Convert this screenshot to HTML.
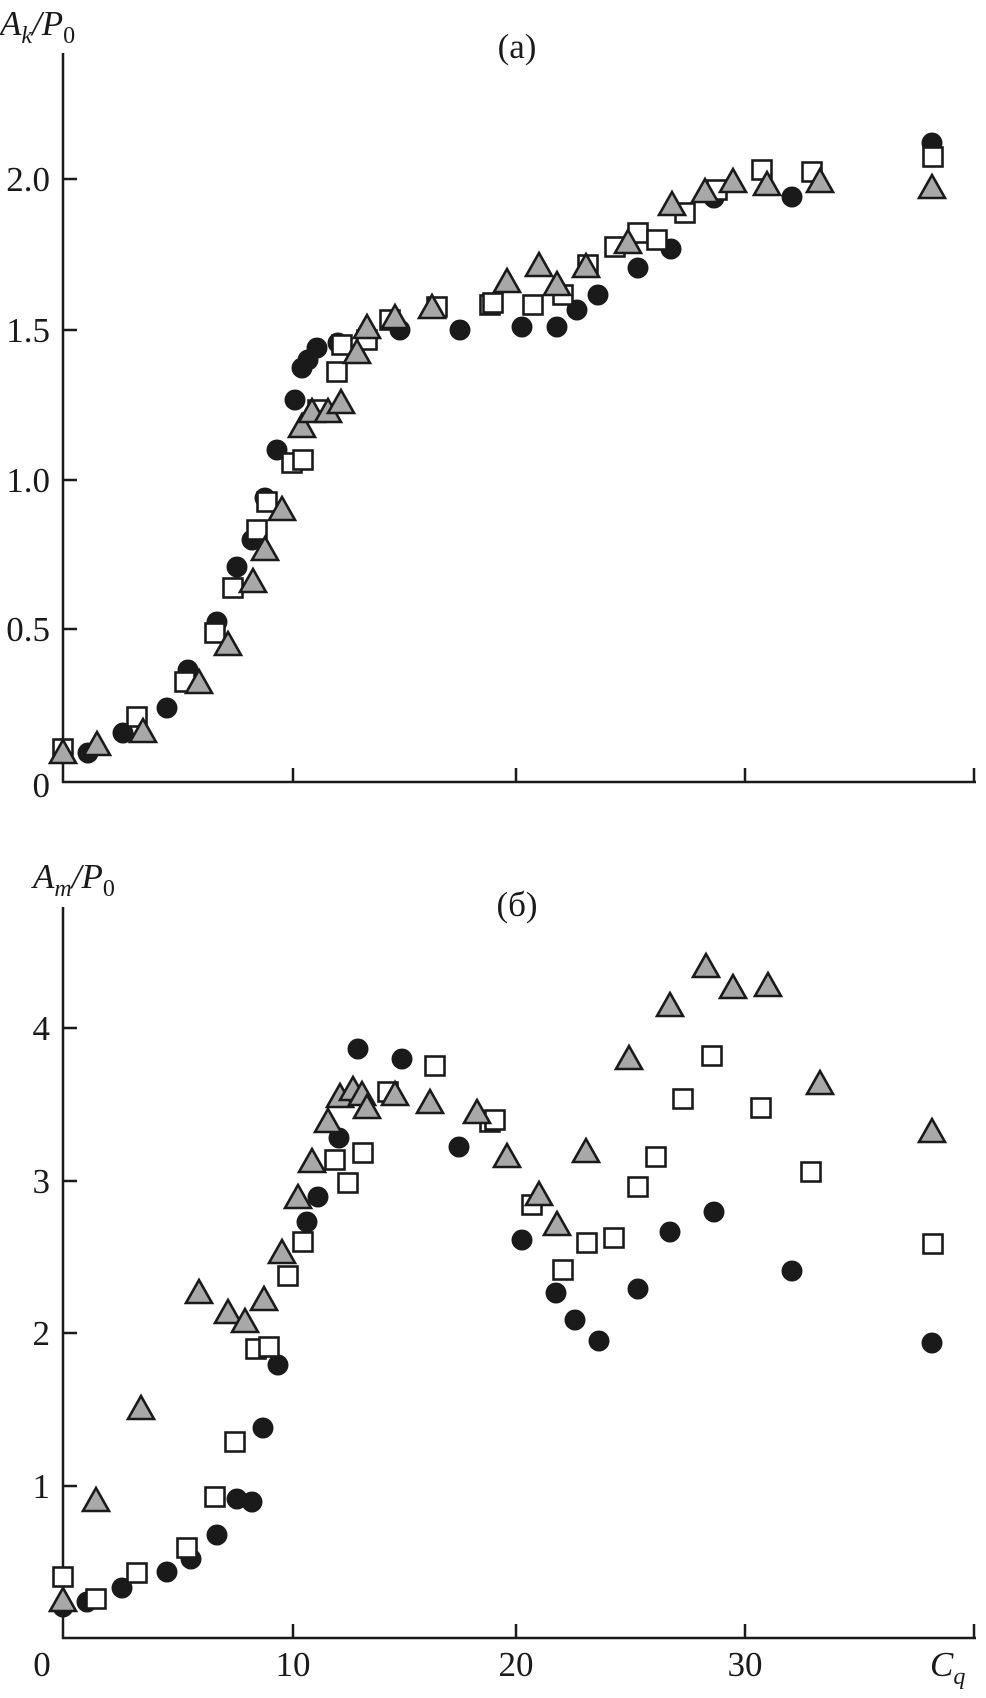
<!DOCTYPE html>
<html><head><meta charset="utf-8"><style>
html,body{margin:0;padding:0;background:#fff;}
svg{display:block;}
text{font-family:"Liberation Serif",serif;fill:#1a1a1a;}
</style></head><body>
<svg width="986" height="1698" viewBox="0 0 986 1698" xmlns="http://www.w3.org/2000/svg">
<defs>
<circle id="c" r="10.5" fill="#1a1a1a"/>
<rect id="s" x="-9.5" y="-9.5" width="19" height="19" fill="#fff" stroke="#1a1a1a" stroke-width="2.6"/>
<polygon id="t" points="0,-13 -13,10 13,10" fill="#a8a8a8" stroke="#1a1a1a" stroke-width="2.6" stroke-linejoin="miter"/>
</defs>
<g stroke="#1a1a1a" stroke-width="2.5" fill="none">
<!-- panel a axes -->
<line x1="63" y1="53" x2="63" y2="783"/>
<line x1="62" y1="782" x2="976" y2="782"/>
<line x1="63" y1="179" x2="77" y2="179"/>
<line x1="63" y1="330" x2="77" y2="330"/>
<line x1="63" y1="480" x2="77" y2="480"/>
<line x1="63" y1="629" x2="77" y2="629"/>
<line x1="293" y1="782" x2="293" y2="768"/>
<line x1="516" y1="782" x2="516" y2="768"/>
<line x1="745" y1="782" x2="745" y2="768"/>
<line x1="974" y1="782" x2="974" y2="768"/>
<!-- panel b axes -->
<line x1="63" y1="907" x2="63" y2="1639"/>
<line x1="62" y1="1638" x2="976" y2="1638"/>
<line x1="63" y1="1028" x2="77" y2="1028"/>
<line x1="63" y1="1181" x2="77" y2="1181"/>
<line x1="63" y1="1333" x2="77" y2="1333"/>
<line x1="63" y1="1486" x2="77" y2="1486"/>
<line x1="293" y1="1638" x2="293" y2="1624"/>
<line x1="516" y1="1638" x2="516" y2="1624"/>
<line x1="745" y1="1638" x2="745" y2="1624"/>
<line x1="974" y1="1638" x2="974" y2="1624"/>
</g>
<!-- labels -->
<g font-size="35">
<text x="50" y="191" text-anchor="end">2.0</text>
<text x="50" y="342" text-anchor="end">1.5</text>
<text x="50" y="492" text-anchor="end">1.0</text>
<text x="50" y="641" text-anchor="end">0.5</text>
<text x="50" y="797" text-anchor="end">0</text>
<text x="50" y="1040" text-anchor="end">4</text>
<text x="50" y="1193" text-anchor="end">3</text>
<text x="50" y="1345" text-anchor="end">2</text>
<text x="50" y="1498" text-anchor="end">1</text>
<text x="42" y="1676" text-anchor="middle">0</text>
<text x="293" y="1676" text-anchor="middle">10</text>
<text x="516" y="1676" text-anchor="middle">20</text>
<text x="745" y="1676" text-anchor="middle">30</text>
<text x="517" y="58" text-anchor="middle">(a)</text>
<text x="517" y="916" text-anchor="middle">(б)</text>
<text x="0" y="35" font-style="italic">A<tspan font-size="24" dy="8">k</tspan><tspan dy="-8">/P</tspan><tspan font-size="24" dy="8" font-style="normal">0</tspan></text>
<text x="33" y="888" font-style="italic">A<tspan font-size="24" dy="8">m</tspan><tspan dy="-8">/P</tspan><tspan font-size="24" dy="8" font-style="normal">0</tspan></text>
<text x="930" y="1676" font-style="italic">C<tspan font-size="24" dy="8">q</tspan></text>
</g>
<!-- panel a circles -->
<g>
<use href="#c" x="88" y="753"/><use href="#c" x="123" y="733"/><use href="#c" x="167" y="708"/><use href="#c" x="188" y="670"/><use href="#c" x="217" y="622"/><use href="#c" x="237" y="567"/><use href="#c" x="252" y="540"/><use href="#c" x="265" y="498"/><use href="#c" x="277" y="450"/><use href="#c" x="295" y="400"/><use href="#c" x="302" y="368"/><use href="#c" x="308" y="360"/><use href="#c" x="317" y="348"/><use href="#c" x="338" y="343"/><use href="#c" x="400" y="330"/><use href="#c" x="460" y="330"/>
<use href="#c" x="522" y="327"/><use href="#c" x="557" y="327"/><use href="#c" x="577" y="310"/><use href="#c" x="598" y="295"/><use href="#c" x="638" y="268"/><use href="#c" x="671" y="249"/><use href="#c" x="714" y="198"/><use href="#c" x="792" y="197"/><use href="#c" x="932" y="143"/>
</g>
<g>
<use href="#s" x="63" y="749"/><use href="#s" x="137" y="717"/><use href="#s" x="185" y="682"/><use href="#s" x="215" y="633"/><use href="#s" x="233" y="588"/><use href="#s" x="257" y="530"/><use href="#s" x="267" y="502"/><use href="#s" x="292" y="463"/><use href="#s" x="303" y="460"/><use href="#s" x="318" y="410"/><use href="#s" x="337" y="372"/><use href="#s" x="342" y="345"/><use href="#s" x="367" y="340"/><use href="#s" x="390" y="320"/><use href="#s" x="437" y="307"/><use href="#s" x="490" y="305"/>
<use href="#s" x="493" y="303"/><use href="#s" x="533" y="305"/><use href="#s" x="563" y="295"/><use href="#s" x="588" y="265"/><use href="#s" x="615" y="247"/><use href="#s" x="638" y="233"/><use href="#s" x="657" y="240"/><use href="#s" x="685" y="213"/><use href="#s" x="717" y="190"/><use href="#s" x="762" y="170"/><use href="#s" x="812" y="172"/><use href="#s" x="933" y="157"/>
</g>
<g>
<use href="#t" x="63" y="753"/><use href="#t" x="97" y="745"/><use href="#t" x="143" y="732"/><use href="#t" x="199" y="683"/><use href="#t" x="228" y="645"/><use href="#t" x="253" y="582"/><use href="#t" x="265" y="550"/><use href="#t" x="282" y="510"/><use href="#t" x="302" y="427"/><use href="#t" x="312" y="412"/><use href="#t" x="328" y="412"/><use href="#t" x="341" y="403"/><use href="#t" x="357" y="353"/><use href="#t" x="367" y="328"/><use href="#t" x="395" y="318"/><use href="#t" x="432" y="308"/>
<use href="#t" x="507" y="282"/><use href="#t" x="539" y="266"/><use href="#t" x="557" y="285"/><use href="#t" x="586" y="267"/><use href="#t" x="628" y="243"/><use href="#t" x="672" y="205"/><use href="#t" x="705" y="192"/><use href="#t" x="733" y="182"/><use href="#t" x="767" y="185"/><use href="#t" x="820" y="182"/><use href="#t" x="932" y="188"/>
</g>
<!-- panel b -->
<g>
<use href="#c" x="63" y="1607"/><use href="#c" x="87" y="1602"/><use href="#c" x="122" y="1588"/><use href="#c" x="167" y="1572"/><use href="#c" x="191" y="1559"/><use href="#c" x="217" y="1535"/><use href="#c" x="237" y="1499"/><use href="#c" x="252" y="1502"/><use href="#c" x="263" y="1428"/><use href="#c" x="278" y="1365"/><use href="#c" x="307" y="1222"/><use href="#c" x="318" y="1197"/><use href="#c" x="339" y="1138"/><use href="#c" x="358" y="1049"/><use href="#c" x="402" y="1059"/><use href="#c" x="459" y="1147"/>
<use href="#c" x="522" y="1240"/><use href="#c" x="556" y="1293"/><use href="#c" x="575" y="1320"/><use href="#c" x="599" y="1341"/><use href="#c" x="638" y="1289"/><use href="#c" x="670" y="1232"/><use href="#c" x="714" y="1212"/><use href="#c" x="792" y="1271"/><use href="#c" x="932" y="1343"/>
</g>
<g>
<use href="#s" x="63" y="1577"/><use href="#s" x="96" y="1599"/><use href="#s" x="137" y="1573"/><use href="#s" x="187" y="1548"/><use href="#s" x="215" y="1497"/><use href="#s" x="235" y="1442"/><use href="#s" x="256" y="1349"/><use href="#s" x="269" y="1347"/><use href="#s" x="288" y="1276"/><use href="#s" x="303" y="1242"/><use href="#s" x="335" y="1160"/><use href="#s" x="348" y="1183"/><use href="#s" x="363" y="1153"/><use href="#s" x="388" y="1092"/><use href="#s" x="435" y="1066"/><use href="#s" x="490" y="1122"/>
<use href="#s" x="495" y="1120"/><use href="#s" x="532" y="1205"/><use href="#s" x="563" y="1270"/><use href="#s" x="587" y="1243"/><use href="#s" x="614" y="1238"/><use href="#s" x="638" y="1187"/><use href="#s" x="656" y="1157"/><use href="#s" x="683" y="1099"/><use href="#s" x="712" y="1056"/><use href="#s" x="761" y="1108"/><use href="#s" x="811" y="1172"/><use href="#s" x="933" y="1244"/>
</g>
<g>
<use href="#t" x="63" y="1601"/><use href="#t" x="96" y="1501"/><use href="#t" x="141" y="1409"/><use href="#t" x="199" y="1293"/><use href="#t" x="228" y="1313"/><use href="#t" x="245" y="1322"/><use href="#t" x="264" y="1300"/><use href="#t" x="282" y="1253"/><use href="#t" x="298" y="1198"/><use href="#t" x="312" y="1162"/><use href="#t" x="328" y="1122"/><use href="#t" x="340" y="1097"/><use href="#t" x="353" y="1090"/><use href="#t" x="362" y="1095"/><use href="#t" x="367" y="1108"/><use href="#t" x="395" y="1095"/><use href="#t" x="430" y="1103"/><use href="#t" x="477" y="1113"/>
<use href="#t" x="507" y="1157"/><use href="#t" x="539" y="1195"/><use href="#t" x="557" y="1225"/><use href="#t" x="586" y="1152"/><use href="#t" x="629" y="1059"/><use href="#t" x="670" y="1006"/><use href="#t" x="706" y="967"/><use href="#t" x="733" y="988"/><use href="#t" x="768" y="986"/><use href="#t" x="820" y="1084"/><use href="#t" x="932" y="1132"/>
</g>
</svg>
</body></html>
